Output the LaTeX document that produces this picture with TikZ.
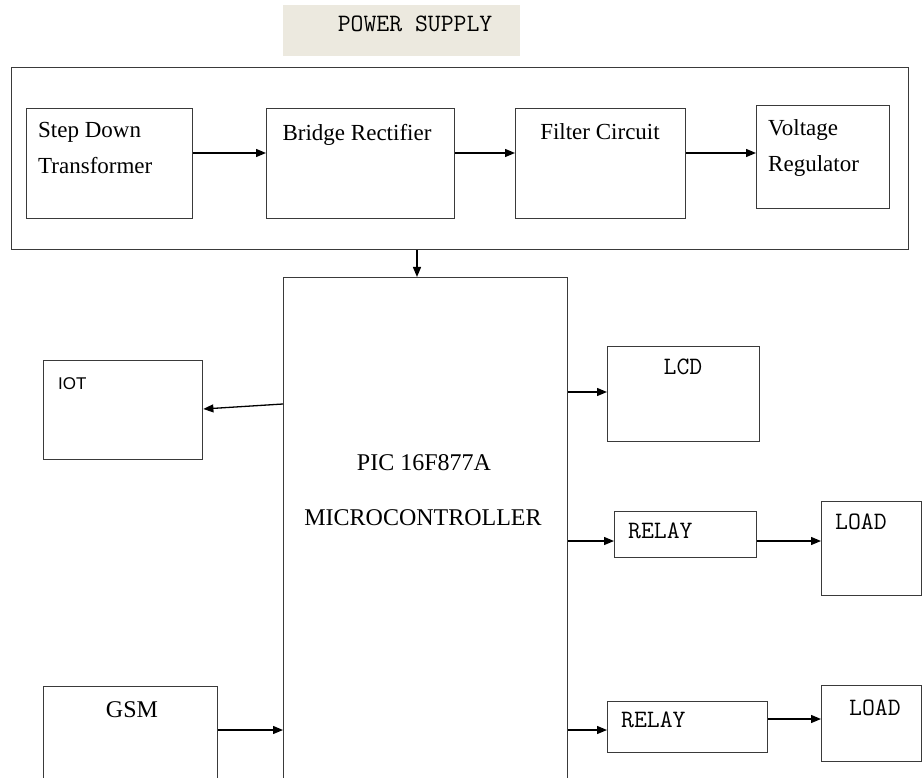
\documentclass[tikz,border=0pt]{standalone}
\usepackage{fontspec}
\setmainfont{Liberation Serif}
\setsansfont{Liberation Sans}
\usepackage{xcolor}
\usepackage{tikz}
\usetikzlibrary{arrows.meta}
\definecolor{psbg}{HTML}{ECE9DF}
\definecolor{edge}{HTML}{3A3A3A}

\begin{document}
\begin{tikzpicture}[x=1pt, y=-1pt,
  blk/.style={draw=edge, line width=1.4pt, anchor=north west, inner sep=0pt},
  serif/.style={font=\fontsize{23}{36}\selectfont, inner sep=0pt, align=left},
  mono/.style={font=\ttfamily\fontsize{25}{30}\selectfont, inner sep=0pt},
  arr/.style={-{Triangle[length=10pt, width=8pt]}, line width=1.3pt, black}
]
  \useasboundingbox (0,0) rectangle (924,778);
  \clip (0,0) rectangle (924,778);

  % power supply
  \node[anchor=north west, fill=psbg, inner sep=0pt, minimum width=237pt, minimum height=51pt] (pshead) at (283,5) {};
  \node[mono] (pstitle) at (415,24) {POWER SUPPLY};
  \node[blk, minimum width=897pt, minimum height=182pt] (ps) at (11,67) {};

  \node[blk, minimum width=166pt, minimum height=110pt] (sdt) at (26,108) {};
  \node[serif, anchor=north west] (sdt-t) at (38,122) {Step Down\\Transformer};
  \node[blk, minimum width=188pt, minimum height=110pt] (br) at (266,108) {};
  \node[serif, anchor=north] (br-t) at (357,124) {Bridge Rectifier};
  \node[blk, minimum width=170pt, minimum height=110pt] (fc) at (515,108) {};
  \node[serif, anchor=north] (fc-t) at (600,123) {Filter Circuit};
  \node[blk, minimum width=133pt, minimum height=103pt] (vr) at (756,105) {};
  \node[serif, anchor=north west] (vr-t) at (768,119) {Voltage\\Regulator};

  \draw[arr] (sdt.east |- 0,153) -- (br.west |- 0,153);
  \draw[arr] (br.east |- 0,153) -- (fc.west |- 0,153);
  \draw[arr] (fc.east |- 0,153) -- (vr.west |- 0,153);

  % controller
  \node[blk, minimum width=284pt, minimum height=540pt] (mcu) at (283,277) {};
  \node[font=\fontsize{24}{28}\selectfont, inner sep=0pt] (mcu-t1) at (424,463) {PIC 16F877A};
  \node[font=\fontsize{24}{28}\selectfont, inner sep=0pt] (mcu-t2) at (423,518) {MICROCONTROLLER};
  \draw[arr] (ps.south -| 417,0) -- (mcu.north -| 417,0);

  % left side
  \node[blk, minimum width=159pt, minimum height=99pt] (iot) at (43,360) {};
  \node[font=\sffamily\fontsize{17}{20}\selectfont, inner sep=0pt, anchor=north west] (iot-t) at (58,377) {IOT};
  \node[blk, minimum width=174pt, minimum height=120pt] (gsm) at (43,686) {};
  \node[font=\fontsize{24}{28}\selectfont, inner sep=0pt] (gsm-t) at (132,710) {GSM};

  \draw[arr] (mcu.west |- 0,404) -- (iot.east |- 0,409);
  \draw[arr] (gsm.east |- 0,730) -- (mcu.west |- 0,730);

  % right side
  \node[blk, minimum width=152pt, minimum height=95pt] (lcd) at (607,346) {};
  \node[mono] (lcd-t) at (683,366.5) {LCD};
  \node[blk, minimum width=142pt, minimum height=46pt] (rly1) at (614,511) {};
  \node[mono, anchor=west] (rly1-t) at (628,530.5) {RELAY};
  \node[blk, minimum width=100pt, minimum height=94pt] (load1) at (821,501) {};
  \node[mono, anchor=west] (load1-t) at (835,522) {LOAD};
  \node[blk, minimum width=160pt, minimum height=51pt] (rly2) at (607,701) {};
  \node[mono, anchor=west] (rly2-t) at (621,719.5) {RELAY};
  \node[blk, minimum width=100pt, minimum height=76pt] (load2) at (821,685) {};
  \node[mono, anchor=west] (load2-t) at (849,707.5) {LOAD};

  \draw[arr] (mcu.east |- 0,392) -- (lcd.west |- 0,392);
  \draw[arr] (mcu.east |- 0,541) -- (rly1.west |- 0,541);
  \draw[arr] (rly1.east |- 0,541) -- (load1.west |- 0,541);
  \draw[arr] (mcu.east |- 0,730) -- (rly2.west |- 0,730);
  \draw[arr] (rly2.east |- 0,719) -- (load2.west |- 0,719);
\end{tikzpicture}
\end{document}
